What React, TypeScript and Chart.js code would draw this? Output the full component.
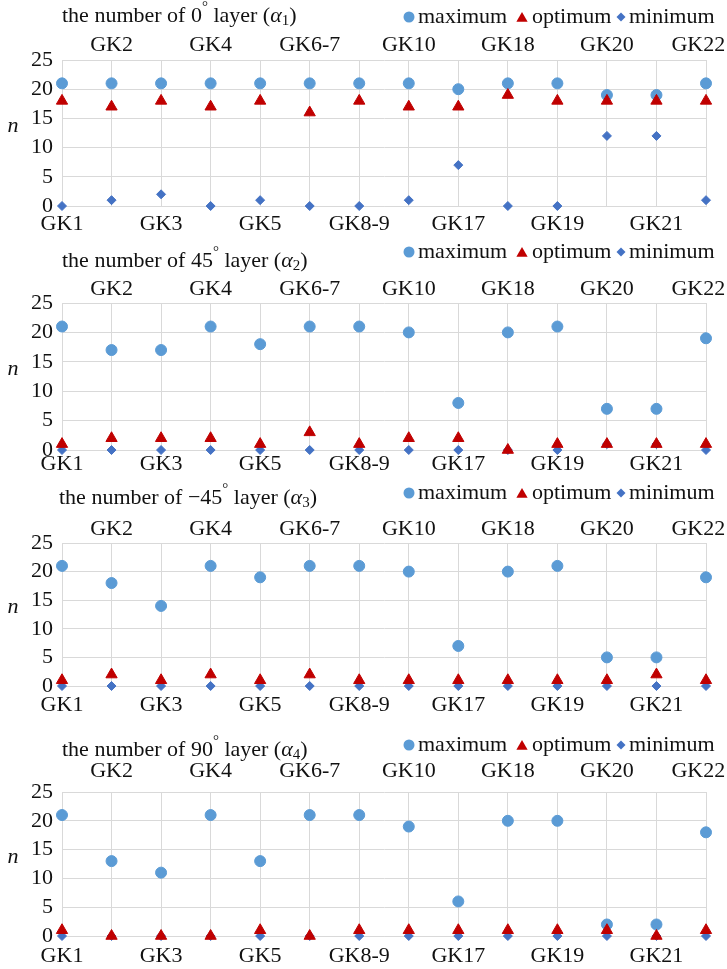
import React, { useEffect, useRef } from 'react';
import { Chart, registerables } from 'chart.js';

Chart.register(...registerables);

const FONT = "'Liberation Serif', 'Times New Roman', serif";

// ---------- data ----------
const categories = ['GK1', 'GK2', 'GK3', 'GK4', 'GK5', 'GK6-7', 'GK8-9', 'GK10', 'GK17', 'GK18', 'GK19', 'GK20', 'GK21', 'GK22'];
const yTicks = [0, 5, 10, 15, 20, 25];
const legendLabels = ['maximum', 'optimum', 'minimum'];

const max0 = [21, 21, 21, 21, 21, 21, 21, 21, 20, 21, 21, 19, 19, 21];
const opt0 = [18, 17, 18, 17, 18, 16, 18, 17, 17, 19, 18, 18, 18, 18];
const min0 = [0, 1, 2, 0, 1, 0, 0, 1, 7, 0, 0, 12, 12, 1];

const max45 = [21, 17, 17, 21, 18, 21, 21, 20, 8, 20, 21, 7, 7, 19];
const opt45 = [1, 2, 2, 2, 1, 3, 1, 2, 2, 0, 1, 1, 1, 1];
const min45 = [0, 0, 0, 0, 0, 0, 0, 0, 0, 0, 0, 1, 1, 0];

const maxM45 = [21, 18, 14, 21, 19, 21, 21, 20, 7, 20, 21, 5, 5, 19];
const optM45 = [1, 2, 1, 2, 1, 2, 1, 1, 1, 1, 1, 1, 2, 1];
const minM45 = [0, 0, 0, 0, 0, 0, 0, 0, 0, 0, 0, 0, 0, 0];

const max90 = [21, 13, 11, 21, 13, 21, 21, 19, 6, 20, 20, 2, 2, 18];
const opt90 = [1, 0, 0, 0, 1, 0, 1, 1, 1, 1, 1, 1, 0, 1];
const min90 = [0, 0, 0, 0, 0, 0, 0, 0, 0, 0, 0, 0, 0, 0];

const angleLabels = ['0', '45', '\u221245', '90'];
const alphaIndex = ['1', '2', '3', '4'];

// ---------- styles ----------
const COLOR_MAX = '#5B9BD5';
const COLOR_OPT = '#C00000';
const COLOR_MIN = '#4472C4';
const GRID = '#d9d9d9';
const TEXT = '#111111';
const FS = 22;

type Part = { t: string; size?: number; dy?: number; italic?: boolean };

type PanelCfg = {
  top: number;
  height: number;
  bottom: number;
  topPad: number;
  botPad: number;
  titleX: number;
  titleY: number;
  legendY: number;
  angle: string;
  alpha: string;
  max: number[];
  opt: number[];
  min: number[];
};

const panels: PanelCfg[] = [
  { top: 0, height: 243, bottom: 206, topPad: 2, botPad: 5, titleX: 62, titleY: 16, legendY: 17, angle: angleLabels[0], alpha: alphaIndex[0], max: max0, opt: opt0, min: min0 },
  { top: 243, height: 240, bottom: 207, topPad: 1, botPad: 1, titleX: 62, titleY: 18, legendY: 9, angle: angleLabels[1], alpha: alphaIndex[1], max: max45, opt: opt45, min: min45 },
  { top: 483, height: 249, bottom: 203, topPad: 1, botPad: 6, titleX: 59, titleY: 15, legendY: 10, angle: angleLabels[2], alpha: alphaIndex[2], max: maxM45, opt: optM45, min: minM45 },
  { top: 732, height: 237, bottom: 204, topPad: 8, botPad: 7, titleX: 62, titleY: 18, legendY: 13, angle: angleLabels[3], alpha: alphaIndex[3], max: max90, opt: opt90, min: min90 },
];

function drawRich(ctx: CanvasRenderingContext2D, x: number, y: number, parts: Part[]) {
  ctx.textAlign = 'left';
  ctx.textBaseline = 'middle';
  let cx = x;
  for (const p of parts) {
    const size = p.size ?? FS;
    ctx.font = `${p.italic ? 'italic ' : ''}${size}px ${FONT}`;
    ctx.fillText(p.t, cx, y + (p.dy ?? 0));
    cx += ctx.measureText(p.t).width;
  }
}

function marker(ctx: CanvasRenderingContext2D, kind: string, x: number, y: number) {
  ctx.beginPath();
  if (kind === 'circle') {
    ctx.fillStyle = COLOR_MAX;
    ctx.arc(x, y, 5.5, 0, Math.PI * 2);
  } else if (kind === 'triangle') {
    ctx.fillStyle = COLOR_OPT;
    const r = 6.5;
    for (let k = 0; k < 3; k++) {
      const a = (k * 2 * Math.PI) / 3;
      const px = x + Math.sin(a) * r;
      const py = y + 1.5 - Math.cos(a) * r;
      if (k === 0) ctx.moveTo(px, py);
      else ctx.lineTo(px, py);
    }
    ctx.closePath();
  } else {
    ctx.fillStyle = COLOR_MIN;
    const r = 4.5;
    ctx.moveTo(x, y - r);
    ctx.lineTo(x + r, y);
    ctx.lineTo(x, y + r);
    ctx.lineTo(x - r, y);
    ctx.closePath();
  }
  ctx.fill();
}

function makeDecor(cfg: PanelCfg) {
  return {
    id: 'panelDecor',
    afterDraw(chart: any) {
      const ctx: CanvasRenderingContext2D = chart.ctx;
      ctx.save();
      ctx.fillStyle = TEXT;
      const parts: Part[] = [
        { t: `the number of ${cfg.angle}` },
        { t: '\u00b0', size: 15, dy: -9 },
        { t: ' layer (' },
        { t: '\u03b1', italic: true },
        { t: cfg.alpha, size: 15, dy: 5 },
        { t: ')' },
      ];
      drawRich(ctx, cfg.titleX, cfg.titleY, parts);

      // legend
      const kinds = ['circle', 'triangle', 'diamond'];
      const mx = [409, 522, 621];
      const tx = [418, 532, 629];
      for (let i = 0; i < 3; i++) {
        marker(ctx, kinds[i], mx[i], cfg.legendY);
        ctx.fillStyle = TEXT;
        ctx.font = `${FS}px ${FONT}`;
        ctx.textAlign = 'left';
        ctx.textBaseline = 'middle';
        ctx.fillText(legendLabels[i], tx[i], cfg.legendY);
      }

      // y axis title
      const ca = chart.chartArea;
      ctx.fillStyle = TEXT;
      ctx.font = `italic ${FS}px ${FONT}`;
      ctx.textAlign = 'center';
      ctx.textBaseline = 'middle';
      ctx.fillText('n', 13, (ca.top + ca.bottom) / 2 - 7);
      ctx.restore();
    },
  };
}

function Panel({ cfg }: { cfg: PanelCfg }) {
  const ref = useRef<HTMLCanvasElement>(null);
  useEffect(() => {
    const tickFont = { family: FONT, size: FS };
    const chart = new Chart(ref.current as HTMLCanvasElement, {
      type: 'line',
      data: {
        labels: categories,
        datasets: [
          {
            label: legendLabels[0], data: cfg.max, showLine: false, pointStyle: 'circle', pointRadius: 5.5,
            pointBackgroundColor: COLOR_MAX, pointBorderColor: COLOR_MAX, pointBorderWidth: 1, order: 1, clip: false,
            xAxisID: 'x', yAxisID: 'y',
          },
          {
            label: legendLabels[1], data: cfg.opt, showLine: false, pointStyle: 'triangle', pointRadius: 6.5,
            pointBackgroundColor: COLOR_OPT, pointBorderColor: COLOR_OPT, pointBorderWidth: 1, order: 0, clip: false,
            xAxisID: 'x', yAxisID: 'y',
          },
          {
            label: legendLabels[2], data: cfg.min, showLine: false, pointStyle: 'rectRot', pointRadius: 4.5,
            pointBackgroundColor: COLOR_MIN, pointBorderColor: COLOR_MIN, pointBorderWidth: 1, order: 2, clip: false,
            xAxisID: 'x', yAxisID: 'y',
          },
        ] as any,
      },
      options: {
        responsive: false,
        animation: false,
        events: [],
        layout: { padding: 0 },
        plugins: { legend: { display: false }, tooltip: { enabled: false }, title: { display: false } },
        scales: {
          x: {
            type: 'category', position: 'bottom', offset: false,
            grid: { color: GRID, lineWidth: 1, drawTicks: false },
            border: { color: GRID },
            ticks: {
              autoSkip: false, maxRotation: 0, minRotation: 0, padding: cfg.botPad, color: TEXT, font: tickFont,
              callback: (_v: any, i: number) => (i % 2 === 0 ? categories[i] : ''),
            },
            afterFit: (s: any) => { s.height = cfg.height - cfg.bottom; s.paddingRight = 21; },
          },
          x2: {
            type: 'category', position: 'top', offset: false,
            grid: { display: false, drawTicks: false },
            border: { display: false },
            ticks: {
              autoSkip: false, maxRotation: 0, minRotation: 0, padding: cfg.topPad, color: TEXT, font: tickFont,
              callback: (_v: any, i: number) => (i % 2 === 1 ? categories[i] + (i === categories.length - 1 ? '\u2002\u2009' : '') : ''),
            },
            afterFit: (s: any) => { s.height = 60; s.paddingRight = 21; },
          },
          y: {
            type: 'linear', min: yTicks[0], max: yTicks[yTicks.length - 1],
            grid: { color: GRID, lineWidth: 1, drawTicks: false },
            border: { color: GRID },
            ticks: { stepSize: 5, autoSkip: false, padding: 9, color: TEXT, font: { family: FONT, size: FS } },
            afterBuildTicks: (s: any) => { s.ticks = yTicks.map((v) => ({ value: v })); },
            afterFit: (s: any) => { s.width = 62; },
          },
        },
      } as any,
      plugins: [makeDecor(cfg)],
    });
    return () => chart.destroy();
  }, [cfg]);
  return (
    <div style={{ position: 'absolute', left: 0, top: cfg.top, width: 727, height: cfg.height }}>
      <canvas ref={ref} width={727} height={cfg.height} style={{ display: 'block' }} />
    </div>
  );
}

export default function App() {
  return (
    <div style={{ position: 'absolute', left: 0, top: 0, width: 727, height: 969, background: '#ffffff', overflow: 'hidden' }}>
      {panels.map((p, i) => (
        <Panel key={i} cfg={p} />
      ))}
    </div>
  );
}
